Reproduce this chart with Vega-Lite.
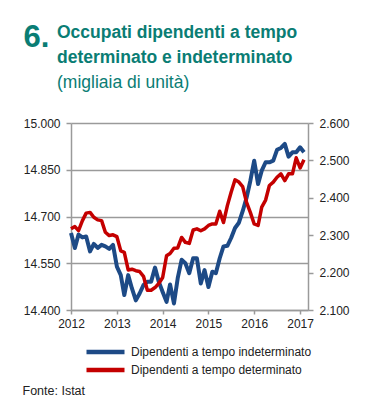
{
  "$schema": "https://vega.github.io/schema/vega-lite/v6.json",
  "autosize": "none",
  "width": 237,
  "height": 187,
  "padding": {"left": 71, "top": 123, "right": 63, "bottom": 90},
  "background": "white",
  "config": {
    "locale": {"number": {"decimal": ",", "thousands": ".", "grouping": [3], "currency": ["€", ""]}},
    "font": "Liberation Sans, Arial, sans-serif",
    "view": {"stroke": null},
    "axis": {"labelFont": "Liberation Sans, Arial, sans-serif", "labelFontSize": 12, "labelColor": "#222222", "domainColor": "#9a9a9a", "domainWidth": 1.5, "tickColor": "#9a9a9a", "tickWidth": 1.5, "tickSize": 5},
    "legend": {"labelFont": "Liberation Sans, Arial, sans-serif", "labelFontSize": 12, "labelColor": "#222222", "labelLimit": 300}
  },
  "title": {
    "text": ["Occupati dipendenti a tempo", "determinato e indeterminato"],
    "subtitle": "(migliaia di unità)",
    "anchor": "start",
    "frame": "group",
    "dx": -14,
    "dy": 92,
    "offset": 22,
    "font": "Liberation Sans, Arial, sans-serif",
    "fontSize": 17.5,
    "fontWeight": "bold",
    "color": "#0a7d74",
    "lineHeight": 25,
    "subtitleFont": "Liberation Sans, Arial, sans-serif",
    "subtitleFontSize": 17.5,
    "subtitleColor": "#0a7d74",
    "subtitlePadding": 7
  },
  "data": {"values": [
    {"d":"2012-01-01","ind":14647,"det":2317},{"d":"2012-02-01","ind":14599,"det":2323},{"d":"2012-03-01","ind":14642,"det":2312},{"d":"2012-04-01","ind":14633,"det":2339},{"d":"2012-05-01","ind":14636,"det":2359},{"d":"2012-06-01","ind":14588,"det":2361},{"d":"2012-07-01","ind":14612,"det":2348},{"d":"2012-08-01","ind":14599,"det":2341},{"d":"2012-09-01","ind":14609,"det":2339},{"d":"2012-10-01","ind":14604,"det":2308},{"d":"2012-11-01","ind":14596,"det":2299},{"d":"2012-12-01","ind":14609,"det":2301},
    {"d":"2013-01-01","ind":14539,"det":2296},{"d":"2013-02-01","ind":14512,"det":2258},{"d":"2013-03-01","ind":14448,"det":2254},{"d":"2013-04-01","ind":14512,"det":2207},{"d":"2013-05-01","ind":14469,"det":2209},{"d":"2013-06-01","ind":14431,"det":2205},{"d":"2013-07-01","ind":14453,"det":2203},{"d":"2013-08-01","ind":14480,"det":2190},{"d":"2013-09-01","ind":14491,"det":2153},{"d":"2013-10-01","ind":14491,"det":2153},{"d":"2013-11-01","ind":14536,"det":2160},{"d":"2013-12-01","ind":14491,"det":2171},
    {"d":"2014-01-01","ind":14458,"det":2187},{"d":"2014-02-01","ind":14426,"det":2245},{"d":"2014-03-01","ind":14482,"det":2251},{"d":"2014-04-01","ind":14421,"det":2265},{"d":"2014-05-01","ind":14502,"det":2266},{"d":"2014-06-01","ind":14561,"det":2294},{"d":"2014-07-01","ind":14550,"det":2281},{"d":"2014-08-01","ind":14518,"det":2278},{"d":"2014-09-01","ind":14566,"det":2314},{"d":"2014-10-01","ind":14566,"det":2317},{"d":"2014-11-01","ind":14485,"det":2312},{"d":"2014-12-01","ind":14528,"det":2317},
    {"d":"2015-01-01","ind":14474,"det":2326},{"d":"2015-02-01","ind":14523,"det":2330},{"d":"2015-03-01","ind":14518,"det":2330},{"d":"2015-04-01","ind":14566,"det":2364},{"d":"2015-05-01","ind":14604,"det":2334},{"d":"2015-06-01","ind":14606,"det":2379},{"d":"2015-07-01","ind":14631,"det":2415},{"d":"2015-08-01","ind":14663,"det":2448},{"d":"2015-09-01","ind":14680,"det":2442},{"d":"2015-10-01","ind":14717,"det":2430},{"d":"2015-11-01","ind":14760,"det":2388},{"d":"2015-12-01","ind":14814,"det":2361},
    {"d":"2016-01-01","ind":14879,"det":2330},{"d":"2016-02-01","ind":14804,"det":2326},{"d":"2016-03-01","ind":14847,"det":2375},{"d":"2016-04-01","ind":14874,"det":2394},{"d":"2016-05-01","ind":14874,"det":2433},{"d":"2016-06-01","ind":14879,"det":2442},{"d":"2016-07-01","ind":14914,"det":2455},{"d":"2016-08-01","ind":14920,"det":2464},{"d":"2016-09-01","ind":14933,"det":2446},{"d":"2016-10-01","ind":14892,"det":2464},{"d":"2016-11-01","ind":14906,"det":2464},{"d":"2016-12-01","ind":14906,"det":2507},
    {"d":"2017-01-01","ind":14922,"det":2480},{"d":"2017-02-01","ind":14906,"det":2502}
  ]},
  "encoding": {
    "x": {
      "field": "d", "type": "temporal",
      "scale": {"type": "utc", "domain": [{"year": 2012, "month": 1, "date": 1, "utc": true}, {"year": 2017, "month": 3, "date": 5, "utc": true}]},
      "axis": {
        "values": [{"year": 2012, "utc": true}, {"year": 2013, "utc": true}, {"year": 2014, "utc": true}, {"year": 2015, "utc": true}, {"year": 2016, "utc": true}, {"year": 2017, "utc": true}],
        "format": "%Y", "labelFlush": false, "labelPadding": 4, "grid": false, "tickSize": 4,
        "title": "Fonte: Istat", "titleFont": "Liberation Sans, Arial, sans-serif", "titleFontSize": 12.5, "titleFontWeight": "normal", "titleColor": "#222222",
        "titleAlign": "left", "titleAnchor": "start", "titleBaseline": "alphabetic", "titleX": -49, "titleY": 84
      }
    }
  },
  "layer": [
    {
      "mark": {"type": "line", "strokeWidth": 4, "strokeJoin": "round"},
      "encoding": {
        "y": {
          "field": "ind", "type": "quantitative",
          "scale": {"domain": [14400, 15000], "zero": false, "nice": false},
          "axis": {
            "values": [14400, 14550, 14700, 14850, 15000], "format": ",.0f", "grid": true, "gridColor": "#9a9a9a", "gridWidth": 1.5, "labelPadding": 6,
            "title": "6.", "titleAngle": 0, "titleFont": "Liberation Sans, Arial, sans-serif", "titleFontSize": 31, "titleFontWeight": "bold", "titleColor": "#0a7d74",
            "titleAlign": "left", "titleBaseline": "alphabetic", "titleX": -48, "titleY": -77
          }
        },
        "color": {"datum": "Dipendenti a tempo indeterminato", "type": "nominal"}
      }
    },
    {
      "mark": {"type": "line", "strokeWidth": 3.5, "strokeJoin": "round"},
      "encoding": {
        "y": {
          "field": "det", "type": "quantitative",
          "scale": {"domain": [2100, 2600], "zero": false, "nice": false},
          "axis": {"orient": "right", "values": [2100, 2200, 2300, 2400, 2500, 2600], "format": ",.0f", "grid": false, "title": null, "labelPadding": 6}
        },
        "color": {
          "datum": "Dipendenti a tempo determinato", "type": "nominal",
          "scale": {"domain": ["Dipendenti a tempo indeterminato", "Dipendenti a tempo determinato"], "range": ["#1d4a86", "#c40000"]},
          "legend": {
            "title": null, "orient": "none", "legendX": 13, "legendY": 222, "direction": "vertical",
            "symbolType": "stroke", "symbolSize": 1444, "symbolStrokeWidth": 4.5, "clipHeight": 14, "rowPadding": 4, "labelOffset": 4, "labelLimit": 300
          }
        }
      }
    }
  ],
  "resolve": {"scale": {"y": "independent"}}
}
